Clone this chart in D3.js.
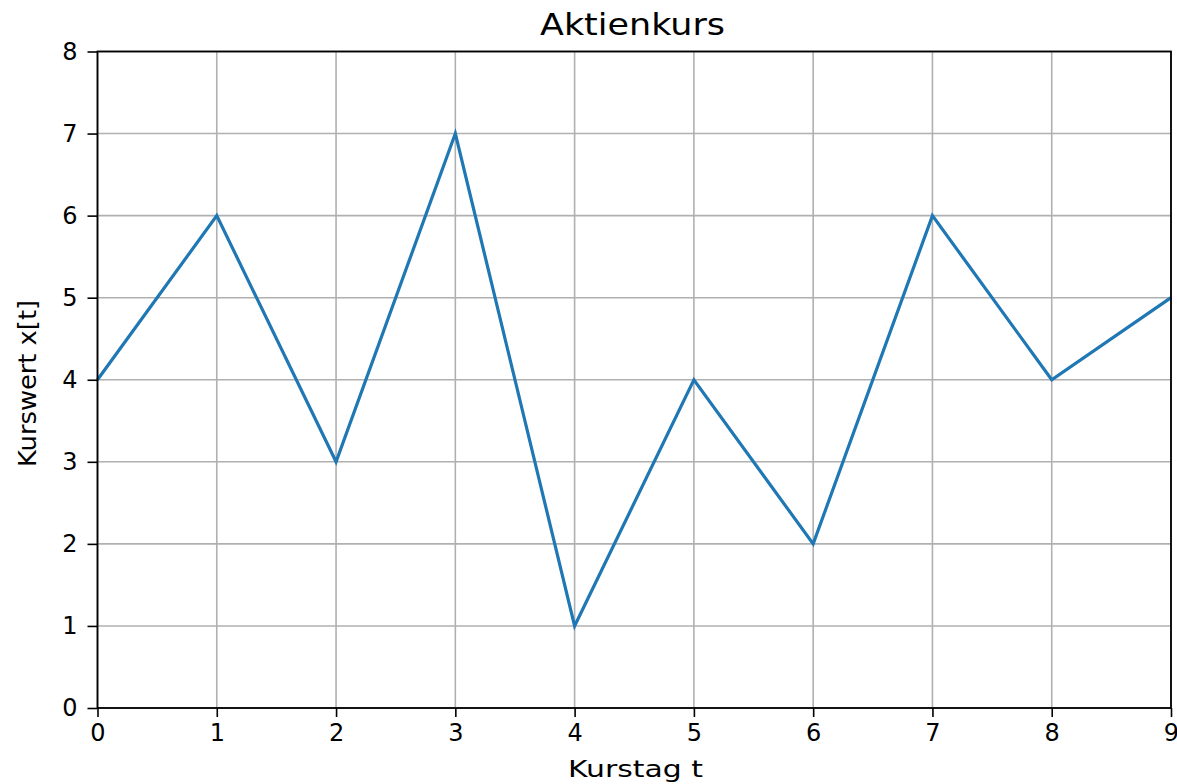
<!DOCTYPE html>
<html><head><meta charset="utf-8">
<script src="https://cdn.jsdelivr.net/npm/d3@7"></script>
<style>body{margin:0;background:#fff}svg{display:block}text{font-family:"DejaVu Sans",sans-serif;fill:#000}</style>
</head><body><svg id="c" width="1177" height="784"></svg>
<script>
const days = [0,1,2,3,4,5,6,7,8,9];
const prices = [4,6,3,7,1,4,2,6,4,5];
const xTicks = [0,1,2,3,4,5,6,7,8,9];
const yTicks = [0,1,2,3,4,5,6,7,8];
const title = "Aktienkurs", xLabel = "Kurstag t", yLabel = "Kurswert x[t]";

const svg = d3.select("#c");
const L=97.5, R=1171, T=51.5, B=708;
const x = d3.scaleLinear().domain([0,9]).range([L,R]);
const y = d3.scaleLinear().domain([0,8]).range([B,T]);
const fs = 24;

// grid
svg.append("g").selectAll("line").data(xTicks).join("line")
  .attr("x1",d=>x(d)).attr("x2",d=>x(d)).attr("y1",T).attr("y2",B)
  .attr("stroke","#b0b0b0").attr("stroke-width",1.6);
svg.append("g").selectAll("line").data(yTicks).join("line")
  .attr("y1",d=>y(d)).attr("y2",d=>y(d)).attr("x1",L).attr("x2",R)
  .attr("stroke","#b0b0b0").attr("stroke-width",1.6);

// line
svg.append("path").datum(days.map((d,i)=>[d,prices[i]]))
  .attr("d",d3.line().x(d=>x(d[0])).y(d=>y(d[1])))
  .attr("fill","none").attr("stroke","#1f77b4").attr("stroke-width",3.2)
  .attr("stroke-linejoin","miter");

// axes
const xa = svg.append("g").attr("transform",`translate(0,${B})`)
  .call(d3.axisBottom(x).tickValues(xTicks).tickSize(9).tickPadding(7).tickFormat(d3.format("d")));
const ya = svg.append("g").attr("transform",`translate(${L},0)`)
  .call(d3.axisLeft(y).tickValues(yTicks).tickSize(10).tickPadding(10).tickFormat(d3.format("d")));
[xa,ya].forEach(a=>{a.select(".domain").remove();
  a.selectAll(".tick line").attr("stroke","#000").attr("stroke-width",1.6);
  a.selectAll(".tick text").attr("font-size",fs).attr("font-family","DejaVu Sans").attr("fill","#000");});

// spines
svg.append("rect").attr("x",L).attr("y",T).attr("width",R-L).attr("height",B-T)
  .attr("fill","none").attr("stroke","#000").attr("stroke-width",1.8);

svg.append("text").attr("x",632.5).attr("y",35).attr("text-anchor","middle").attr("font-size",30)
  .attr("textLength",185).attr("lengthAdjust","spacingAndGlyphs").text(title);
svg.append("text").attr("x",635.5).attr("y",777).attr("text-anchor","middle").attr("font-size",23)
  .attr("textLength",135).attr("lengthAdjust","spacingAndGlyphs").text(xLabel);
svg.append("text").attr("transform",`translate(36,383.5) rotate(-90)`).attr("text-anchor","middle").attr("font-size",24)
  .attr("textLength",167).attr("lengthAdjust","spacingAndGlyphs").text(yLabel);
</script></body></html>
